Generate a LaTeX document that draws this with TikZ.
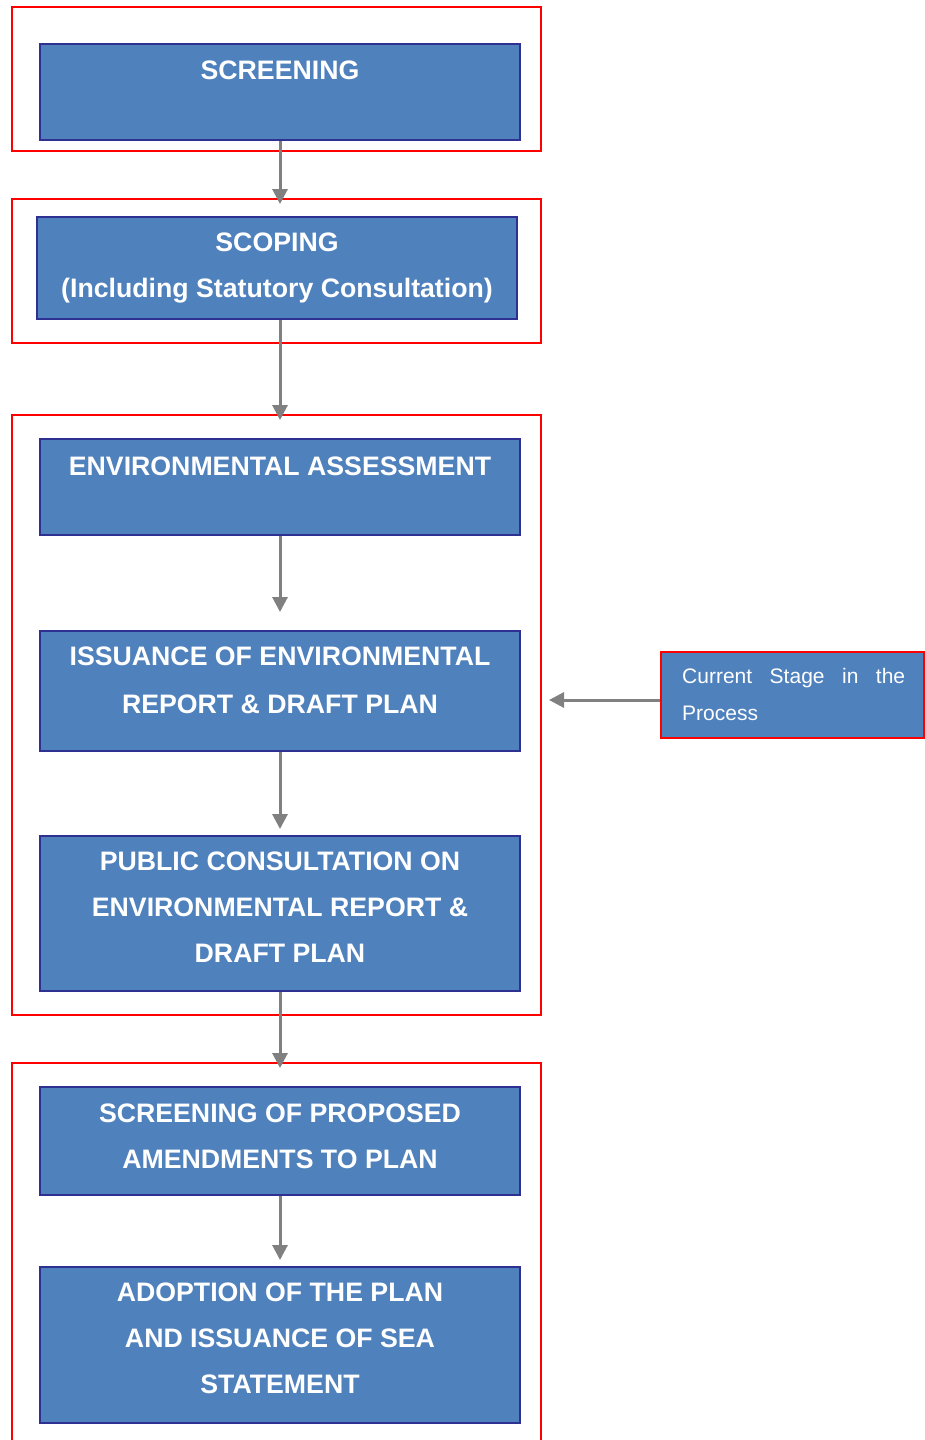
\documentclass[tikz,border=0pt]{standalone}
\usepackage{fontspec}
\setmainfont{Liberation Sans}
\usetikzlibrary{arrows.meta}
\definecolor{boxblue}{RGB}{79,129,189}
\definecolor{boxedge}{RGB}{46,49,146}
\definecolor{framered}{RGB}{255,0,0}
\definecolor{arrgray}{RGB}{128,128,128}
\begin{document}
\begin{tikzpicture}[x=1pt,y=-1pt,
  frame/.style={draw=framered, line width=2pt, minimum width=529pt, inner sep=0pt, rectangle},
  stagebox/.style={draw=boxedge, fill=boxblue, line width=2pt, inner sep=0pt, minimum width=480pt, rectangle},
  steptext/.style={text=white, font=\fontsize{26.7}{26.7}\selectfont\bfseries, anchor=base, inner sep=0pt},
  curtext/.style={text=white, font=\fontsize{21}{21}\selectfont, anchor=base west, inner sep=0pt},
  flow/.style={draw=arrgray, line width=3pt, -{Triangle[length=15pt,width=15pt]}},
]
\useasboundingbox (0,0) rectangle (925,1440);
\clip (0,0) rectangle (925,1440);
\fill[white] (0,0) rectangle (925,1440);

% red frames
\node[frame, minimum height=144pt] (fr1) at (276.5,79) {};
\node[frame, minimum height=144pt] (fr2) at (276.5,271) {};
\node[frame, minimum height=600pt] (fr3) at (276.5,715) {};
\node[frame, minimum height=417pt] (fr4) at (276.5,1271.5) {};

% stage boxes
\node[stagebox, minimum height=96pt] (scr) at (280,92) {};
\node[stagebox, minimum height=102pt] (scp) at (277,268) {};
\node[stagebox, minimum height=96pt] (ea) at (280,487) {};
\node[stagebox, minimum height=120pt] (iss) at (280,691) {};
\node[stagebox, minimum height=155pt] (pub) at (280,913.5) {};
\node[stagebox, minimum height=108pt] (amd) at (280,1141) {};
\node[stagebox, minimum height=156pt] (ado) at (280,1345) {};

% texts
\node[steptext] (t1) at (280,79) {SCREENING};
\node[steptext] (t2a) at (277,251) {SCOPING};
\node[steptext] (t2b) at (277,297) {(Including Statutory Consultation)};
\node[steptext] (t3) at (280,475) {ENVIRONMENTAL ASSESSMENT};
\node[steptext] (t4a) at (280,665) {ISSUANCE OF ENVIRONMENTAL};
\node[steptext] (t4b) at (280,713) {REPORT \& DRAFT PLAN};
\node[steptext] (t5a) at (280,870) {PUBLIC CONSULTATION ON};
\node[steptext] (t5b) at (280,916) {ENVIRONMENTAL REPORT \&};
\node[steptext] (t5c) at (280,962) {DRAFT PLAN};
\node[steptext] (t6a) at (280,1122) {SCREENING OF PROPOSED};
\node[steptext] (t6b) at (280,1168) {AMENDMENTS TO PLAN};
\node[steptext] (t7a) at (280,1301) {ADOPTION OF THE PLAN};
\node[steptext] (t7b) at (280,1347) {AND ISSUANCE OF SEA};
\node[steptext] (t7c) at (280,1393) {STATEMENT};

% current stage box
\node[draw=framered, fill=boxblue, line width=2pt, inner sep=0pt, minimum width=263pt, minimum height=86pt] (cur) at (792.5,695) {};
\node[curtext] (c1) at (682,683) {\makebox[223pt][s]{Current Stage in the}};
\node[curtext] (c2) at (682,720) {Process};

% connectors
\draw[flow, shorten >=12pt] (scr.south) -- (scr.south |- scp.north);
\draw[flow, shorten >=18pt] (scp.south -| ea.north) -- (ea.north);
\draw[flow, shorten >=18pt] (ea.south) -- (iss.north);
\draw[flow, shorten >=6pt] (iss.south) -- (pub.north);
\draw[flow, shorten >=18pt] (pub.south) -- (amd.north);
\draw[flow, shorten >=6pt] (amd.south) -- (ado.north);
\draw[flow, shorten >=7pt] ([yshift=-5pt]cur.west) -- ([yshift=-5pt]cur.west -| fr3.east);
\end{tikzpicture}
\end{document}
